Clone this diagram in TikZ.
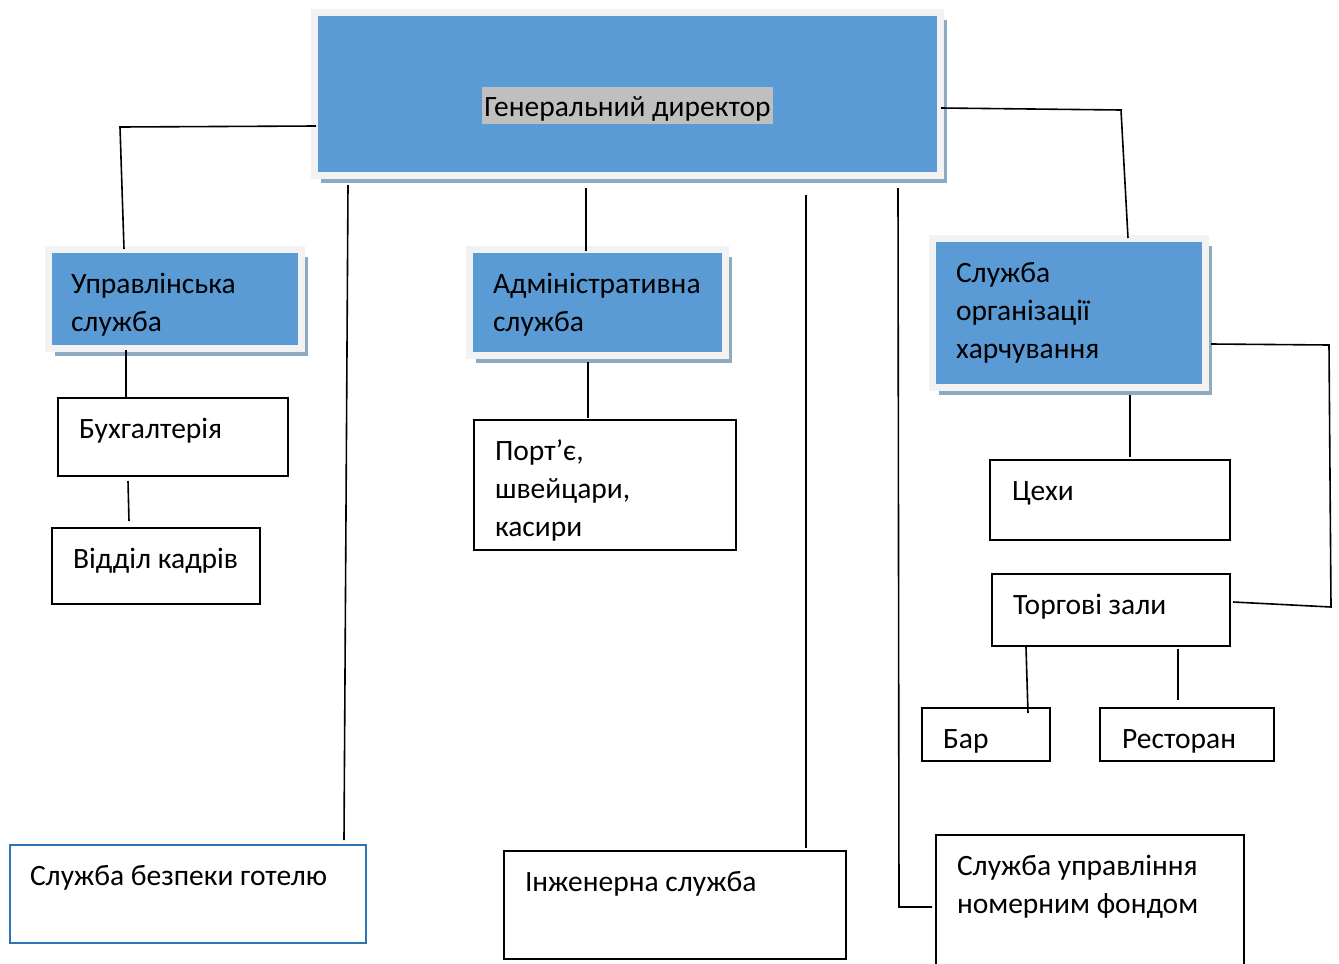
\documentclass[tikz,border=0pt]{standalone}
\usepackage{fontspec}
\setmainfont{Carlito}
\usetikzlibrary{calc,shadows}
\definecolor{sblue}{HTML}{5B9BD5}
\definecolor{sframe}{HTML}{F2F2F2}
\definecolor{sshadow}{HTML}{8EA9C2}
\definecolor{shl}{HTML}{BFBFBF}
\definecolor{sborder}{HTML}{2E75B6}
\newcommand\boxtxt[5]{\parbox[t][#2][t]{#1}{\raggedright\leftskip=#3\relax\rule{0pt}{#4}#5}}
\begin{document}
\begin{tikzpicture}[x=1pt,y=-1pt,
  every node/.style={font=\fontsize{29.5}{38}\selectfont},
  shbox/.style={anchor=north west, inner sep=0pt, outer sep=0pt, fill=sblue, draw=sframe, line width=7pt,
    drop shadow={shadow xshift=6pt, shadow yshift=-7pt, fill=sshadow, opacity=1}},
  wbox/.style={anchor=north west, inner sep=0pt, outer sep=0pt, draw=black, line width=1.6pt, fill=white},
  conn/.style={draw=black, line width=1.6pt}]
\useasboundingbox (0,0) rectangle (1339,964);

% shaded boxes
\node[shbox] (gd) at (314.5,12.5) {\parbox[t][163pt][t]{626pt}{\centering\rule{0pt}{103.5pt}\fboxsep=0pt\colorbox{shl}{\rule[-8pt]{0pt}{37pt}\hspace{2pt}Генеральний директор\hspace{2pt}}}};
\node[shbox] (upr) at (48.5,249.5) {\boxtxt{253pt}{99pt}{22.5pt}{44pt}{Управлінська\\служба}};
\node[shbox] (adm) at (469.5,249.5) {\boxtxt{256pt}{106pt}{23.5pt}{44pt}{Адміністративна\\служба}};
\node[shbox] (harch) at (932.5,238.5) {\boxtxt{273pt}{149pt}{23.5pt}{44pt}{Служба\\організації\\харчування}};

% white boxes
\node[wbox] (bux) at (58,398) {\boxtxt{230pt}{78pt}{21pt}{40.5pt}{Бухгалтерія}};
\node[wbox] (kadr) at (52,528) {\boxtxt{208pt}{76pt}{21pt}{40.5pt}{Відділ кадрів}};
\node[wbox] (port) at (474,420) {\boxtxt{262pt}{130pt}{21pt}{40.5pt}{Порт’є,\\швейцари,\\касири}};
\node[wbox] (cehy) at (990,460) {\boxtxt{240pt}{80pt}{22pt}{40.5pt}{Цехи}};
\node[wbox] (torg) at (992,574) {\boxtxt{238pt}{72pt}{21pt}{40.5pt}{Торгові зали}};
\node[wbox] (bar) at (922,708) {\boxtxt{128pt}{53pt}{21pt}{40.5pt}{Бар}};
\node[wbox] (rest) at (1100,708) {\boxtxt{174pt}{53pt}{22pt}{40.5pt}{Ресторан}};
\node[wbox, draw=sborder] (bez) at (10,845) {\boxtxt{356pt}{98pt}{20pt}{40.5pt}{Служба безпеки готелю}};
\node[wbox] (inzh) at (504,851) {\boxtxt{342pt}{108pt}{21pt}{40.5pt}{Інженерна служба}};
\node[wbox] (nomer) at (936,835) {\boxtxt{308pt}{131pt}{21pt}{40.5pt}{Служба управління\\номерним фондом}};

% elbow points
\coordinate (c1) at (120,127);
\coordinate (c2) at (899,907);
\coordinate (c3) at (1121,110);
\coordinate (c4) at (1329,345);
\coordinate (c5) at (1331,607);

% connectors
\draw[conn] ($(gd.north west)+(1.5,113.5)$) -- (c1) -- ($(upr.north west)+(75.5,-0.5)$);
\draw[conn] ($(gd.south west)+(33.5,9.5)$) -- ($(bez.north west)+(334,-5)$);
\draw[conn] ($(gd.south west)+(271.5,12.5)$) -- ($(adm.north west)+(116.5,1.5)$);
\draw[conn] ($(gd.south west)+(491.5,19.5)$) -- ($(inzh.north west)+(302,-3)$);
\draw[conn] ($(gd.south west)+(583.5,12.5)$) -- (c2) -- ($(nomer.north west)+(-4,72)$);
\draw[conn] ($(gd.north east)+(0.5,95.5)$) -- (c3) -- ($(harch.north west)+(195.5,-0.5)$);
\draw[conn] ($(upr.south west)+(77.5,1.5)$) -- ($(bux.north west)+(68,0)$);
\draw[conn] ($(bux.south west)+(70,5)$) -- ($(kadr.north west)+(77,-7)$);
\draw[conn] ($(adm.south west)+(118.5,6.5)$) -- ($(port.north west)+(114,-2)$);
\draw[conn] ($(harch.south west)+(197.5,7.5)$) -- ($(cehy.north west)+(140,-3)$);
\draw[conn] ($(harch.north east)+(5.5,105.5)$) -- (c4) -- (c5) -- ($(torg.north east)+(3,28)$);
\draw[conn] ($(torg.south west)+(34,1)$) -- ($(bar.north west)+(106,5)$);
\draw[conn] ($(torg.south west)+(186,3)$) -- ($(rest.north west)+(78,-8)$);
\end{tikzpicture}
\end{document}
